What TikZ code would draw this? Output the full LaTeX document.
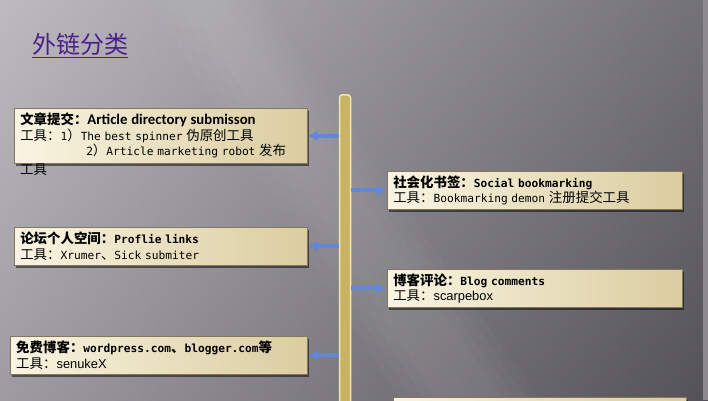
\documentclass[tikz,border=0pt]{standalone}
\usepackage{fontspec}
\setmainfont{DejaVu Sans Mono}
\setsansfont[Scale=1.15]{Liberation Sans}
\newfontfamily\zhfont[Scale=1.2]{Noto Sans CJK SC}
\newfontfamily\calfont[Scale=1.32]{Carlito}
\newcommand{\zh}[1]{{\zhfont #1}}
\usetikzlibrary{arrows.meta,shadows}

\definecolor{bgleft}{RGB}{180,177,184}
\definecolor{bgright}{RGB}{96,94,101}
\definecolor{bgedge}{RGB}{140,138,144}
\definecolor{cardlight}{RGB}{249,244,226}
\definecolor{carddark}{RGB}{219,205,160}
\definecolor{cardline}{RGB}{130,120,92}
\definecolor{rail}{RGB}{200,178,100}
\definecolor{railedge}{RGB}{240,230,178}
\definecolor{linkblue}{RGB}{98,134,220}
\definecolor{titlepurple}{RGB}{76,32,138}

\begin{document}
\begin{tikzpicture}[x=1pt, y=-1pt,
  card/.style={draw=cardline, line width=0.5pt, left color=cardlight, right color=carddark,
    drop shadow={shadow xshift=2pt, shadow yshift=-3pt, opacity=0.5, fill=black},
    anchor=north west, align=left, inner xsep=6pt, inner ysep=2pt,
    font=\fontsize{11.2}{15.5}\selectfont},
  spill/.style={anchor=north west, inner sep=0pt, font=\fontsize{11.2}{15.5}\selectfont},
  spine/.style={anchor=north, minimum width=11pt, minimum height=330pt, inner sep=0pt,
    fill=rail, draw=railedge, line width=1.5pt, rounded corners=3pt},
  feed/.style={-{Latex[length=9pt,width=11pt]}, draw=linkblue, fill=linkblue, line width=4pt}]

\useasboundingbox (0,0) rectangle (708,400);
\clip (0,0) rectangle (708,400);
\shade[left color=bgleft, right color=bgright] (0,0) rectangle (708,400);
\shade[top color=white, bottom color=black, opacity=0.12] (0,0) rectangle (708,400);
\foreach \w in {0,12,24,36}
  \fill[white, opacity=0.025] (150+\w,0) -- (260-\w,0) -- (540-\w,400) -- (400+\w,400) -- cycle;
\fill[bgedge] (703,0) rectangle (708,400);

\node[anchor=north west, inner sep=0pt, text=titlepurple,
  font=\zhfont\fontsize{20}{24}\selectfont] (title) at (32,33) {\underline{外链分类}};

\node[spine] (spine) at (345,94) {};

\node[card, text width=281pt, minimum height=55pt] (art) at (14,108) {%
  \zh{\bfseries 文章提交：}{\calfont\bfseries Article directory submisson}\\
  \zh{工具：}1\zh{）}The best spinner \zh{伪原创工具}\\
  \hspace*{66pt}2\zh{）}Article marketing robot \zh{发布}};
\node[spill] (artmore) at ([xshift=6pt]art.south west) {\zh{工具}};

\node[card, text width=283pt, minimum height=38pt] (social) at (387,171) {%
  \zh{\bfseries 社会化书签：}\textbf{Social bookmarking}\\
  \zh{工具：}Bookmarking demon \zh{注册提交工具}};

\node[card, text width=281pt, minimum height=38pt] (forum) at (14,227) {%
  \zh{\bfseries 论坛个人空间：}\textbf{Proflie links}\\
  \zh{工具：}Xrumer\zh{、}Sick submiter};

\node[card, text width=283pt, minimum height=38pt] (comment) at (387,269) {%
  \zh{\bfseries 博客评论：}\textbf{Blog comments}\\
  \zh{工具：}\textsf{scarpebox}};

\node[card, text width=285pt, minimum height=38pt] (freeblog) at (10,336) {%
  \zh{\bfseries 免费博客：}\textbf{wordpress.com}\zh{\bfseries 、}\textbf{blogger.com}\zh{\bfseries 等}\\
  \zh{工具：}\textsf{senukeX}};

\node[card, text width=281pt, minimum height=40pt] (next) at (393,397) {};

\draw[feed] (spine.west |- art.east) -- ([xshift=1pt]art.east);
\draw[feed] (spine.east |- social.west) -- ([xshift=-1pt]social.west);
\draw[feed] (spine.west |- forum.east) -- ([xshift=1pt]forum.east);
\draw[feed] (spine.east |- comment.west) -- ([xshift=-1pt]comment.west);
\draw[feed] (spine.west |- freeblog.east) -- ([xshift=1pt]freeblog.east);

\end{tikzpicture}
\end{document}
